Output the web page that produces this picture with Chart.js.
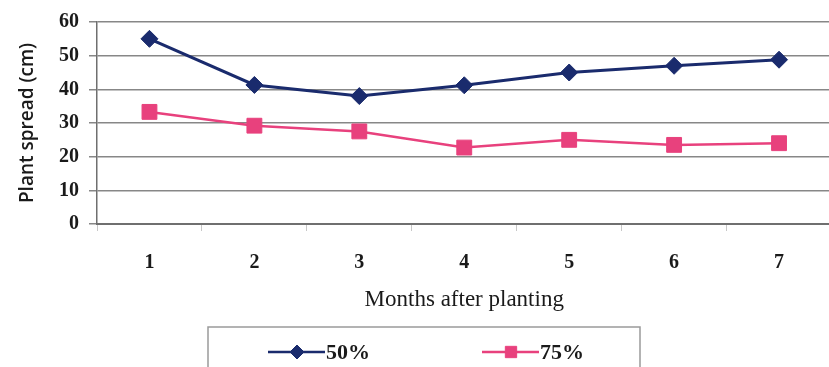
<!DOCTYPE html>
<html>
<head>
<meta charset="utf-8">
<script src="https://cdn.jsdelivr.net/npm/chart.js@4/dist/chart.umd.min.js"></script>
<style>
  html, body { margin: 0; padding: 0; background: #ffffff; overflow: hidden; }
  #wrap { width: 843px; height: 367px; position: relative; }
</style>
</head>
<body>
<div id="wrap"><canvas id="c"></canvas></div>
<script>
// Months after planting
const months = ['1', '2', '3', '4', '5', '6', '7'];
// Plant spread (cm) per treatment
const spread50 = [55, 41.3, 38, 41.2, 45, 47, 48.8];
const spread75 = [33.3, 29.2, 27.5, 22.7, 25, 23.5, 24];
// Value axis
const yTicks = [0, 10, 20, 30, 40, 50, 60];

const navy = '#1a2b6d';
const pink = '#e8417d';
const gridGrey = '#878787';

// Boxed legend below the axis title: a short line with the series marker, then the label
const boxedLegend = {
  id: 'boxedLegend',
  afterDraw(chart) {
    const ctx = chart.ctx;
    const boxW = 432, boxTop = chart.height - 40;
    const boxLeft = 208;
    ctx.save();
    ctx.strokeStyle = '#9a9a9a';
    ctx.lineWidth = 1.5;
    ctx.strokeRect(boxLeft, boxTop, boxW, 60);
    const rowY = boxTop + 25;
    const slots = [boxLeft + 60, boxLeft + 274];
    chart.data.datasets.forEach((ds, i) => {
      const x0 = slots[i];
      ctx.strokeStyle = ds.borderColor;
      ctx.lineWidth = 2.5;
      ctx.beginPath();
      ctx.moveTo(x0, rowY);
      ctx.lineTo(x0 + 57, rowY);
      ctx.stroke();
      ctx.fillStyle = ds.pointBackgroundColor;
      ctx.strokeStyle = ds.pointBackgroundColor;
      ctx.lineWidth = 1;
      Chart.helpers.drawPoint(ctx, {
        pointStyle: ds.pointStyle,
        radius: ds.pointStyle === 'rect' ? 8 : 7,
        borderWidth: 1
      }, x0 + 29, rowY);
      ctx.fillStyle = '#1a1a1a';
      ctx.font = 'bold 22px "Liberation Serif", serif';
      ctx.textBaseline = 'middle';
      ctx.textAlign = 'left';
      ctx.fillText(ds.label, x0 + 58, rowY + 1);
    });
    ctx.restore();
  }
};

new Chart(document.getElementById('c'), {
  type: 'line',
  data: {
    labels: months,
    datasets: [
      {
        label: '50%',
        data: spread50,
        borderColor: navy,
        backgroundColor: navy,
        pointBackgroundColor: navy,
        pointBorderColor: navy,
        borderWidth: 3,
        pointStyle: 'rectRot',
        pointRadius: 8.5,
        pointBorderWidth: 1,
        tension: 0
      },
      {
        label: '75%',
        data: spread75,
        borderColor: pink,
        backgroundColor: pink,
        pointBackgroundColor: pink,
        pointBorderColor: pink,
        borderWidth: 2.5,
        pointStyle: 'rect',
        pointRadius: 10.5,
        pointBorderWidth: 1,
        tension: 0
      }
    ]
  },
  options: {
    responsive: true,
    maintainAspectRatio: false,
    animation: false,
    layout: { padding: { top: 17, left: 0, right: 0, bottom: 53 } },
    plugins: {
      legend: { display: false },
      tooltip: { enabled: false }
    },
    scales: {
      x: {
        type: 'category',
        offset: true,
        afterFit(scale) { scale.height = 90; },
        grid: {
          offset: true,
          drawOnChartArea: false,
          drawTicks: true,
          tickLength: 7,
          color: '#c8c8c8',
          lineWidth: 1
        },
        border: { display: true, color: '#6f6f6f', width: 2 },
        ticks: {
          padding: 20,
          color: '#1a1a1a',
          font: { family: '"Liberation Serif", serif', size: 20, weight: 'bold' }
        },
        title: {
          display: true,
          text: 'Months after planting',
          color: '#1a1a1a',
          font: { family: '"Liberation Serif", serif', size: 23, weight: 'normal' },
          padding: { top: 0, bottom: 0 }
        }
      },
      y: {
        min: 0,
        max: 60,
        afterBuildTicks(scale) {
          scale.ticks = yTicks.map(v => ({ value: v }));
        },
        afterFit(scale) { scale.width = 97; },
        grid: {
          color: gridGrey,
          lineWidth: 1.5,
          drawTicks: true,
          tickLength: 8
        },
        border: { display: true, color: '#6f6f6f', width: 1.5 },
        ticks: {
          padding: 10,
          color: '#1a1a1a',
          font: { family: '"Liberation Serif", serif', size: 20, weight: 'bold' }
        },
        title: {
          display: true,
          text: 'Plant spread (cm)',
          color: '#1a1a1a',
          font: { family: '"Open Sans", sans-serif', size: 19, weight: '600' },
          padding: { top: 16, bottom: 0 }
        }
      }
    }
  },
  plugins: [boxedLegend]
});
</script>
</body>
</html>
